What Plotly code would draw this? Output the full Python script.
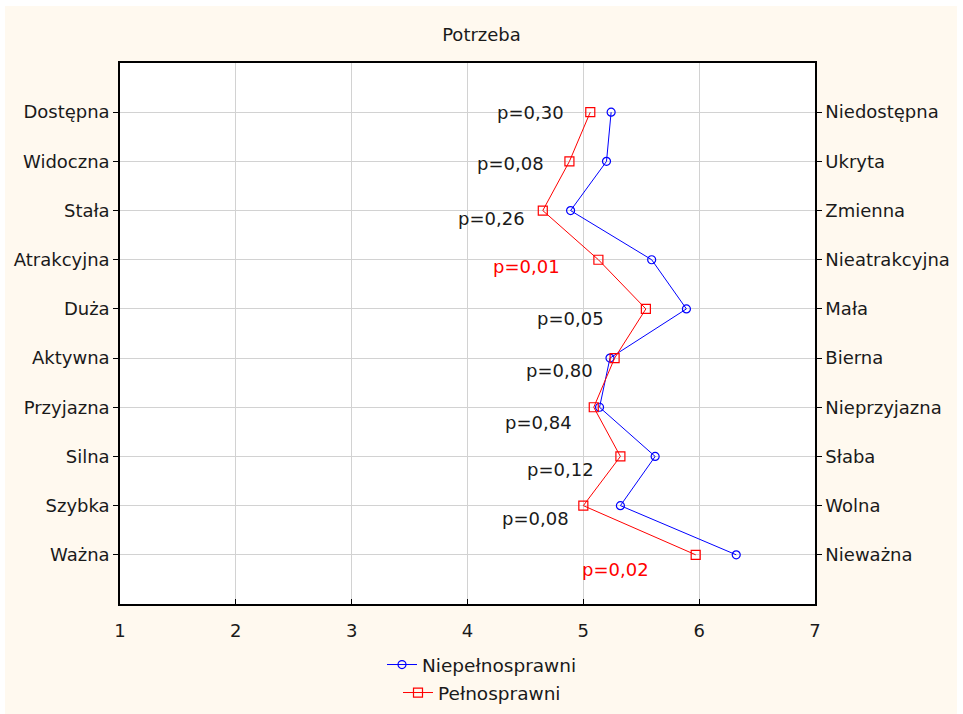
import plotly.graph_objects as go

# ---------------- data ----------------
categories_left = ["Dostępna", "Widoczna", "Stała", "Atrakcyjna", "Duża",
                   "Aktywna", "Przyjazna", "Silna", "Szybka", "Ważna"]
categories_right = ["Niedostępna", "Ukryta", "Zmienna", "Nieatrakcyjna", "Mała",
                    "Bierna", "Nieprzyjazna", "Słaba", "Wolna", "Nieważna"]
niepelnosprawni = [5.24, 5.20, 4.89, 5.59, 5.89, 5.23, 5.14, 5.62, 5.32, 6.32]
pelnosprawni = [5.06, 4.88, 4.65, 5.13, 5.54, 5.27, 5.09, 5.32, 5.00, 5.97]
p_labels = ["p=0,30", "p=0,08", "p=0,26", "p=0,01", "p=0,05",
            "p=0,80", "p=0,84", "p=0,12", "p=0,08", "p=0,02"]
p_values = [0.30, 0.08, 0.26, 0.01, 0.05, 0.80, 0.84, 0.12, 0.08, 0.02]
x_ticks = [1, 2, 3, 4, 5, 6, 7]
title_text = "Potrzeba"
series_names = ["Niepełnosprawni", "Pełnosprawni"]

# ---------------- layout / style ----------------
FONT = "DejaVu Sans"
TXT = "#1a1a1a"
BLUE = "#0000ff"
RED = "#ff0000"
CREAM = "#fff9ef"
GRID = "#d2d2d2"
# label placement (x in data units, y offset in category units)
p_label_x = [4.545, 4.368, 4.204, 4.510, 4.886, 4.791, 4.610, 4.804, 4.584, 5.279]
p_label_dy = [0.0, 0.04, 0.16, 0.13, 0.19, 0.25, 0.31, 0.27, 0.27, 0.29]

y_pos = [i + 1 for i in range(len(categories_left))]
y_range = [len(categories_left) + 1, 0]

fig = go.Figure()
fig.add_trace(go.Scatter(
    x=niepelnosprawni, y=y_pos, mode="lines+markers", name=series_names[0],
    line=dict(color=BLUE, width=1),
    marker=dict(symbol="circle-open", size=8, color=BLUE, line=dict(width=1.2)),
    legend="legend",
))
fig.add_trace(go.Scatter(
    x=pelnosprawni, y=y_pos, mode="lines+markers", name=series_names[1],
    line=dict(color=RED, width=1),
    marker=dict(symbol="square-open", size=9, color=RED, line=dict(width=1.2)),
    legend="legend2",
))
# invisible trace to activate right axis
fig.add_trace(go.Scatter(
    x=niepelnosprawni, y=y_pos, yaxis="y2", mode="lines",
    line=dict(width=0, color="rgba(0,0,0,0)"), showlegend=False, hoverinfo="skip",
))

for lab, pv, xx, dy, yy in zip(p_labels, p_values, p_label_x, p_label_dy, y_pos):
    fig.add_annotation(
        x=xx, y=yy + dy, text=lab, showarrow=False, xref="x", yref="y",
        font=dict(family=FONT, size=18, color=RED if pv < 0.05 else TXT),
        xanchor="center", yanchor="middle",
    )

axis_font = dict(family=FONT, size=18, color=TXT)
legend_font = dict(family=FONT, size=18.5, color=TXT)

fig.update_layout(
    width=963, height=714,
    margin=dict(l=120, r=148, t=63, b=110, autoexpand=False),
    paper_bgcolor=CREAM, plot_bgcolor="white",
    title=dict(text=title_text, x=0.5, xref="container", xanchor="center",
               y=1 - 35 / 714, yref="container", yanchor="middle",
               font=dict(family=FONT, size=18, color=TXT)),
    xaxis=dict(range=[1, 7], tickvals=x_ticks, ticktext=[str(v) for v in x_ticks],
               showgrid=True, gridcolor=GRID, gridwidth=1,
               showline=True, linecolor="black", linewidth=1.5, mirror=True,
               ticks="inside", ticklen=5, tickcolor="black",
               tickfont=axis_font, ticklabelstandoff=10, zeroline=False),
    yaxis=dict(range=y_range, tickvals=y_pos, ticktext=categories_left,
               showgrid=True, gridcolor=GRID, gridwidth=1,
               showline=True, linecolor="black", linewidth=1.5,
               ticks="outside", ticklen=5, tickcolor="black",
               tickfont=axis_font, zeroline=False),
    yaxis2=dict(range=y_range, tickvals=y_pos, ticktext=categories_right,
                overlaying="y", side="right", showgrid=False,
                showline=True, linecolor="black", linewidth=1.5,
                ticks="outside", ticklen=5, tickcolor="black",
                tickfont=axis_font, zeroline=False),
    legend=dict(x=482 / 963, xref="container", xanchor="center",
                y=1 - 665 / 714, yref="container", yanchor="middle",
                bgcolor="rgba(0,0,0,0)", font=legend_font),
    legend2=dict(x=482 / 963, xref="container", xanchor="center",
                 y=1 - 693 / 714, yref="container", yanchor="middle",
                 bgcolor="rgba(0,0,0,0)", font=legend_font),
    showlegend=True,
    shapes=[
        dict(type="rect", xref="paper", yref="paper", x0=-0.2, x1=1.25,
             y0=1 + 57 / 541, y1=1 + 70 / 541, fillcolor="white", line=dict(width=0), layer="below"),
        dict(type="rect", xref="paper", yref="paper", x0=-120 / 695 - 0.01, x1=-115 / 695,
             y0=-0.3, y1=1.2, fillcolor="white", line=dict(width=0), layer="below"),
        dict(type="rect", xref="paper", yref="paper", x0=837 / 695, x1=1.25,
             y0=-0.3, y1=1.2, fillcolor="white", line=dict(width=0), layer="below"),
    ],
)

fig.write_html("out.html")
